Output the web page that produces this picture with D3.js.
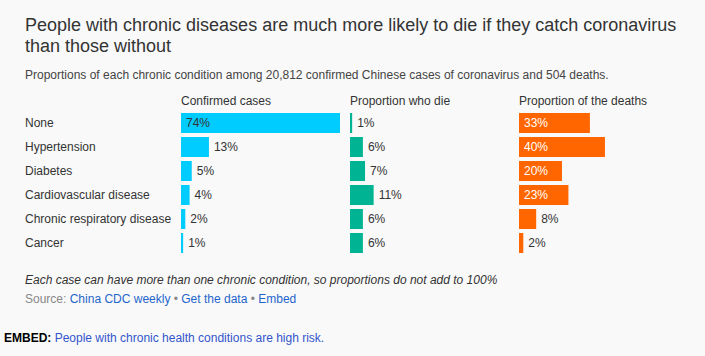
<!DOCTYPE html>
<html><head><meta charset="utf-8">
<script src="https://cdn.jsdelivr.net/npm/d3@7"></script>
<style>
html,body{margin:0;padding:0;background:#f9f9f9;}
svg{display:block;font-family:"Liberation Sans",Arial,sans-serif;}
</style></head>
<body><svg id="c" width="705" height="356"></svg>
<script>
const conditions = ["None","Hypertension","Diabetes","Cardiovascular disease","Chronic respiratory disease","Cancer"];
const columns = ["Confirmed cases","Proportion who die","Proportion of the deaths"];
const confirmedCases = [74,13,5,4,2,1];
const proportionWhoDie = [1,6,7,11,6,6];
const proportionOfDeaths = [33,40,20,23,8,2];
const colors = ["#00ccff","#00b493","#ff6600"];
const series = [confirmedCases, proportionWhoDie, proportionOfDeaths];

const svg = d3.select("#c");
svg.append("rect").attr("width",705).attr("height",356).attr("fill","#f9f9f9");

svg.append("text").attr("x",25).attr("y",31).attr("font-size",18).attr("fill","#333")
  .text("People with chronic diseases are much more likely to die if they catch coronavirus");
svg.append("text").attr("x",25).attr("y",52).attr("font-size",18).attr("fill","#333")
  .text("than those without");
svg.append("text").attr("x",25).attr("y",79).attr("font-size",12).attr("fill","#444")
  .text("Proportions of each chronic condition among 20,812 confirmed Chinese cases of coronavirus and 504 deaths.");

const y = d3.scaleBand().domain(conditions).range([113,253]).paddingInner(4/24).paddingOuter(0);
const x = d3.scaleLinear().domain([0,74]).range([0,159]);
const colX = d3.scalePoint().domain(columns).range([181,519]);

svg.selectAll("text.row").data(conditions).join("text").attr("class","row")
  .attr("x",25).attr("y",d=>y(d)+y.bandwidth()/2+4).attr("font-size",12).attr("fill","#333").text(d=>d);

columns.forEach((col,ci)=>{
  const x0 = colX(col);
  svg.append("text").attr("x",x0).attr("y",105).attr("font-size",12).attr("fill","#333").text(col);
  const g = svg.append("g");
  const vals = series[ci];
  g.selectAll("rect").data(vals).join("rect")
    .attr("x",x0).attr("y",(d,i)=>y(conditions[i]))
    .attr("width",d=>Math.max(1,x(d))).attr("height",y.bandwidth()).attr("fill",colors[ci]);
  g.selectAll("text").data(vals).join("text")
    .attr("y",(d,i)=>y(conditions[i])+y.bandwidth()/2+4)
    .attr("font-size",12)
    .attr("x",d=>{ const inside = x(d) > 40; return inside ? x0+5 : x0+Math.max(1,x(d))+5; })
    .attr("fill",d=>{ const inside = x(d) > 40; return inside ? (ci===2 ? "#fff" : "#333") : "#333"; })
    .text(d=>d+"%");
});

svg.append("text").attr("x",25).attr("y",284).attr("font-size",12).attr("font-style","italic").attr("fill","#333")
  .text("Each case can have more than one chronic condition, so proportions do not add to 100%");
const src = svg.append("text").attr("x",25).attr("y",303).attr("font-size",12).attr("fill","#888");
src.append("tspan").text("Source: ");
src.append("tspan").attr("fill","#1f66cc").text("China CDC weekly");
src.append("tspan").text(" \u2022 ");
src.append("tspan").attr("fill","#1f66cc").text("Get the data");
src.append("tspan").text(" \u2022 ");
src.append("tspan").attr("fill","#1f66cc").text("Embed");

const emb = svg.append("text").attr("x",4).attr("y",342).attr("font-size",12);
emb.append("tspan").attr("font-weight","bold").attr("fill","#000").text("EMBED: ");
emb.append("tspan").attr("fill","#3355cc").text("People with chronic health conditions are high risk.");
</script></body></html>
